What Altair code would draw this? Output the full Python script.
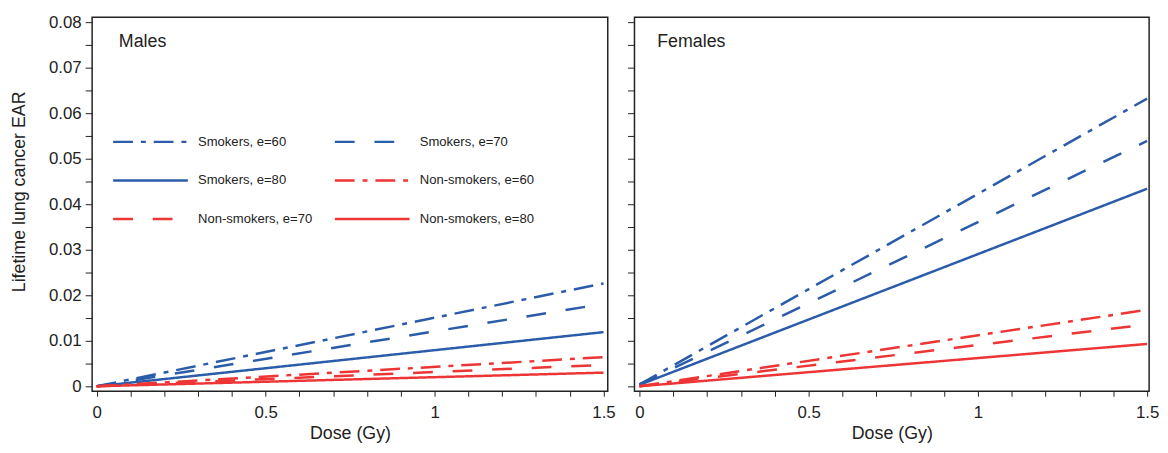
import altair as alt
import pandas as pd

FONT = "Liberation Sans"
INK = "#222222"

series = ["Smokers, e=60", "Smokers, e=70", "Smokers, e=80",
          "Non-smokers, e=60", "Non-smokers, e=70", "Non-smokers, e=80"]
dose = [0.0, 1.5]
male_start = [0.0, 0.0, 0.0, 0.0, 0.0, 0.0]
male_end = [0.0226, 0.0181, 0.0119, 0.0064, 0.0047, 0.0030]
female_start = [0.0004, 0.0004, 0.0003, 0.0, 0.0, 0.0]
female_end = [0.0632, 0.0539, 0.0434, 0.0168, 0.0136, 0.0093]

series_color = {s: ("#2a5caa" if s.startswith("Smokers") else "#ee3535") for s in series}
dash_by_e = {"60": [20, 8, 5, 8], "70": [20, 20], "80": [1, 0]}

# legend fills column by column; this order gives rows
# (S60, S70) / (S80, N60) / (N70, N80)
legend_order = ["Smokers, e=60", "Smokers, e=80", "Non-smokers, e=70",
                "Smokers, e=70", "Non-smokers, e=60", "Non-smokers, e=80"]
colors = [series_color[s] for s in legend_order]
dashes = [dash_by_e[s[-2:]] for s in legend_order]

x_ticks = [round(i * 0.1, 1) for i in range(16)]
y_ticks = [round(i * 0.005, 3) for i in range(17)]


def make_df(starts, ends):
    rows = []
    for s, a, b in zip(series, starts, ends):
        rows.append({"series": s, "dose": dose[0], "ear": a})
        rows.append({"series": s, "dose": dose[1], "ear": b})
    return pd.DataFrame(rows)


x_axis = alt.Axis(
    values=x_ticks,
    labelExpr="abs(datum.value*2 - round(datum.value*2)) < 0.001 ? format(datum.value, '~g') : ''",
    tickSize=5, labelPadding=8, titlePadding=5, domain=False, grid=False,
    labelFlush=False,
)


def y_axis(show):
    if show:
        return alt.Axis(
            values=y_ticks,
            labelExpr="abs(datum.value*100 - round(datum.value*100)) < 0.001 ? format(datum.value, '~g') : ''",
            tickSize=7, labelPadding=4, titlePadding=20, domain=False, grid=False,
            labelFlush=False,
            title="Lifetime lung cancer EAR", titleY=176,
        )
    return alt.Axis(values=y_ticks, labels=False, tickSize=7, domain=False,
                    grid=False, title=None)


legend = alt.Legend(
    orient="none", legendX=20, legendY=116, columns=2, title=None,
    symbolType="stroke", symbolSize=5700, symbolStrokeWidth=2.5,
    clipHeight=20, rowPadding=19, columnPadding=21, labelOffset=9,
    labelFont=FONT, labelFontSize=13.2, labelColor=INK, padding=0,
)


def panel(df, label, lx, ly, show_y, leg, width, xdom):
    lines = alt.Chart(df).mark_line(strokeWidth=2.5, clip=True).encode(
        x=alt.X("dose:Q", title="Dose (Gy)",
                scale=alt.Scale(domain=xdom, nice=False, zero=False),
                axis=x_axis),
        y=alt.Y("ear:Q",
                scale=alt.Scale(domain=[-0.0011, 0.0811], nice=False, zero=False),
                axis=y_axis(show_y)),
        color=alt.Color("series:N", sort=legend_order,
                        scale=alt.Scale(domain=legend_order, range=colors), legend=leg),
        strokeDash=alt.StrokeDash("series:N", sort=legend_order,
                                  scale=alt.Scale(domain=legend_order, range=dashes), legend=leg),
    )
    text = alt.Chart(pd.DataFrame({"t": [label]})).mark_text(
        align="left", baseline="alphabetic", fontSize=18, font=FONT, color=INK
    ).encode(x=alt.value(lx), y=alt.value(ly), text="t:N")
    return alt.layer(lines, text).properties(width=width, height=378)


left = panel(make_df(male_start, male_end), "Males", 27, 30, True, legend, 521,
             [-0.0134, 1.5125])
right = panel(make_df(female_start, female_end), "Females", 23, 30, False, None, 520,
              [-0.0145, 1.506])

chart = alt.hconcat(left, right, spacing=9).resolve_scale(
    color="independent", strokeDash="independent"
).properties(
    padding={"left": 2, "top": 2, "right": 0, "bottom": 0}
).configure_view(
    stroke=INK, strokeWidth=1.5
).configure_axis(
    labelFont=FONT, labelFontSize=17, labelColor=INK,
    titleFont=FONT, titleFontSize=18, titleColor=INK, titleFontWeight="normal",
    tickColor=INK, tickWidth=1,
)

chart.save("out.html", embed_options={"renderer": "svg", "actions": False})
